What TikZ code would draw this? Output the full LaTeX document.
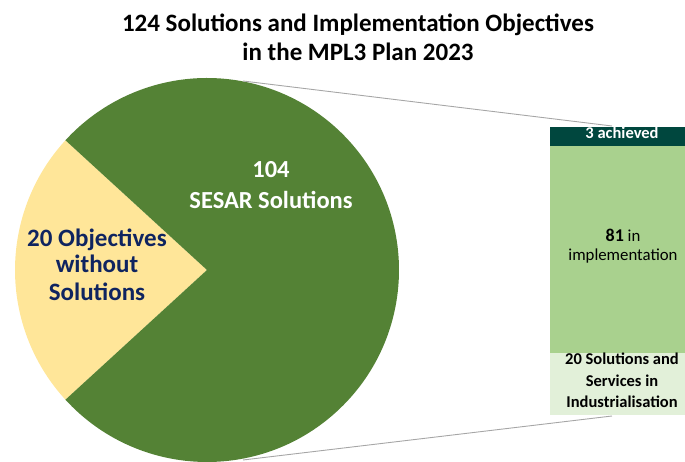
\documentclass[tikz,border=0pt]{standalone}
\usepackage{fontspec}
\setmainfont{Carlito}
\definecolor{piegreen}{HTML}{548235}
\definecolor{pieyellow}{HTML}{FFE699}
\definecolor{bardark}{HTML}{00473E}
\definecolor{barmid}{HTML}{A9D18E}
\definecolor{barlight}{HTML}{E2F0D9}
\definecolor{navy}{HTML}{0F2460}
\definecolor{linegray}{HTML}{A6A6A6}
\tikzset{
  titletext/.style={anchor=base, inner sep=0pt, font=\fontsize{25}{29}\selectfont\bfseries, text=black},
  pietext/.style={anchor=base, inner sep=0pt, font=\fontsize{24.5}{28}\selectfont\bfseries, text=white},
  yellowtext/.style={anchor=base, inner sep=0pt, font=\fontsize{25}{28}\selectfont\bfseries, text=navy},
  bartext/.style={anchor=base, inner sep=0pt, font=\fontsize{16.5}{19}\selectfont\bfseries, text=black},
  connector/.style={draw=linegray, line width=0.9pt},
}
\begin{document}
\begin{tikzpicture}[x=1pt, y=1pt]
\useasboundingbox (0,0) rectangle (685,462);
% pie
\coordinate (c) at (207,192);
\fill[pieyellow] (c) -- ++(137.5:192) arc[start angle=137.5, end angle=222.5, radius=192] -- cycle;
\fill[piegreen] (c) -- ++(-137.5:192) arc[start angle=-137.5, end angle=137.5, radius=192] -- cycle;
% bar
\fill[bardark] (550,316) rectangle (685,335);
\fill[barmid] (550,109) rectangle (685,316);
\fill[barlight] (550,47) rectangle (685,109);
\coordinate (bartop) at (612,336);
\coordinate (barbot) at (612,46);
\coordinate (pt) at (243,381);
\coordinate (pb) at (243,2);
\draw[connector] (pt) -- (bartop);
\draw[connector] (pb) -- (barbot);
% title
\node[titletext] (t1) at (358,430) {124 Solutions and Implementation Objectives};
\node[titletext] (t2) at (358,401) {in the MPL3 Plan 2023};
% pie labels
\node[pietext] (n104) at (271,284) {104};
\node[pietext] (sesar) at (271,253) {SESAR Solutions};
\node[yellowtext] (y1) at (97,215) {20 Objectives};
\node[yellowtext] (y2) at (97,189) {without};
\node[yellowtext] (y3) at (97,161) {Solutions};
% bar labels
\node[bartext, text=white] (ach) at (622,323) {3 achieved};
\node[anchor=base, inner sep=0pt] (impl1) at (623,220) {\fontsize{18}{20}\selectfont\bfseries 81\fontsize{16.8}{19}\selectfont\mdseries\ in};
\node[anchor=base, inner sep=0pt, font=\fontsize{16.8}{19}\selectfont] (impl2) at (623,201) {implementation};
\node[bartext] (s1) at (622,97) {20 Solutions and};
\node[bartext] (s2) at (622,75) {Services in};
\node[bartext] (s3) at (622,54) {Industrialisation};
\end{tikzpicture}
\end{document}
